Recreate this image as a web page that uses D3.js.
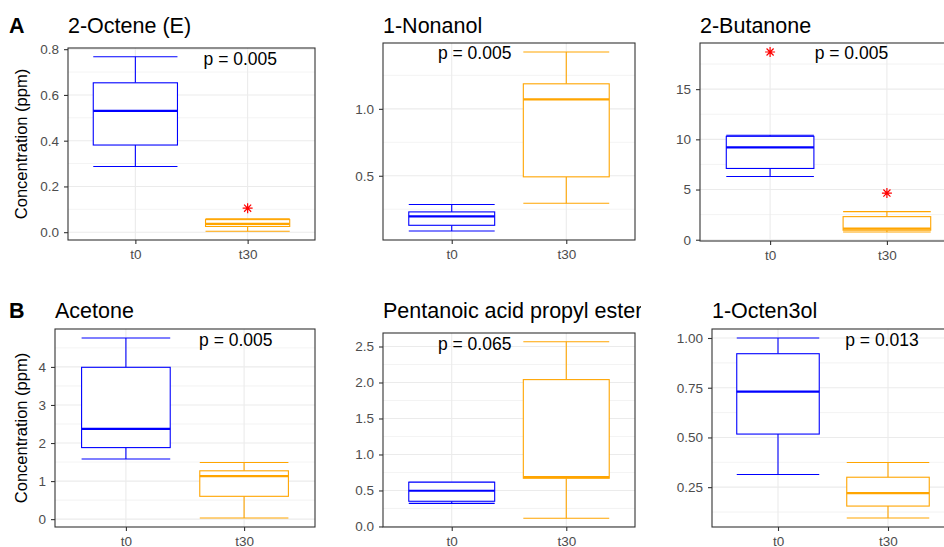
<!DOCTYPE html>
<html>
<head>
<meta charset="utf-8">
<script src="https://cdn.jsdelivr.net/npm/d3@7"></script>
<style>
  body { margin: 0; background: #fff; }
  svg { display: block; font-family: "Liberation Sans", Arial, sans-serif; }
</style>
</head>
<body>
<svg id="chart" width="944" height="547"></svg>
<script>
// compounds, one per panel (row A first, then row B)
const compounds = ["2-Octene (E)", "1-Nonanol", "2-Butanone", "Acetone", "Pentanoic acid propyl ester", "1-Octen3ol"];
const groups = ["t0", "t30"];
const pLabels = ["p = 0.005", "p = 0.005", "p = 0.005", "p = 0.005", "p = 0.065", "p = 0.013"];

// box stats: [low whisker, q1, median, q3, high whisker]
const statsT0 = [
  [0.287, 0.381, 0.530, 0.653, 0.767],
  [0.087, 0.130, 0.197, 0.230, 0.285],
  [6.3, 7.1, 9.2, 10.3, 10.4],
  [1.58, 1.88, 2.37, 3.99, 4.76],
  [0.32, 0.35, 0.496, 0.615, 0.615],
  [0.314, 0.517, 0.730, 0.921, 1.00]
];
const statsT30 = [
  [0.004, 0.025, 0.036, 0.055, 0.058],
  [0.295, 0.492, 1.07, 1.187, 1.425],
  [0.77, 0.95, 1.1, 2.3, 2.8],
  [0.03, 0.60, 1.13, 1.27, 1.49],
  [0.115, 0.67, 0.685, 2.04, 2.565],
  [0.095, 0.155, 0.22, 0.30, 0.374]
];
const outliersT0 = [[], [], [18.7], [], [], []];
const outliersT30 = [[0.105], [], [4.65], [], [], []];

const yTicks = [
  [0, 0.2, 0.4, 0.6, 0.8],
  [0.5, 1.0],
  [0, 5, 10, 15],
  [0, 1, 2, 3, 4],
  [0, 0.5, 1.0, 1.5, 2.0, 2.5],
  [0.25, 0.5, 0.75, 1.0]
];
const tickDecimals = [1, 1, 0, 0, 1, 2];
// where the p label sits, in data units (group position, value)
const pLabelAt = [[1.935, 0.758], [1.2, 1.418], [1.696, 18.64], [1.93, 4.70], [1.2, 2.53], [1.945, 0.988]];

// panel geometry (plot areas in pixels)
const layout = [
  {x0: 68, x1: 315, y0: 48, y1: 240, col: 0},
  {x0: 383, x1: 635, y0: 43, y1: 240, col: 1},
  {x0: 700, x1: 957, y0: 43, y1: 241, col: 2},
  {x0: 55, x1: 315, y0: 329, y1: 527, col: 0},
  {x0: 383, x1: 635, y0: 333, y1: 527, col: 1},
  {x0: 712, x1: 954, y0: 329, y1: 527, col: 2}
];
const colBounds = [[0, 320], [320, 641], [641, 944]];
const titleBaseline = [33, 318];

const colours = {t0: "#0000FF", t30: "#FFA500"};

const svg = d3.select("#chart");
const defs = svg.append("defs");

// 8 pointed star like R's pch 8
const starSymbol = {
  draw(ctx, size) {
    const r = Math.sqrt(size) / 2;
    const d = r * Math.SQRT1_2;
    ctx.moveTo(0, -r); ctx.lineTo(0, r);
    ctx.moveTo(-r, 0); ctx.lineTo(r, 0);
    ctx.moveTo(-d, -d); ctx.lineTo(d, d);
    ctx.moveTo(-d, d); ctx.lineTo(d, -d);
  }
};

colBounds.forEach((b, i) => {
  defs.append("clipPath").attr("id", "col" + i)
    .append("rect").attr("x", b[0]).attr("y", 0).attr("width", b[1] - b[0]).attr("height", 547);
});

compounds.forEach((name, i) => {
  const L = layout[i];
  const row = i < 3 ? 0 : 1;
  const g = svg.append("g").attr("clip-path", `url(#col${L.col})`);

  const all = statsT0[i].concat(statsT30[i], outliersT0[i], outliersT30[i]);
  const lo = d3.min(all), hi = d3.max(all);
  const pad = (hi - lo) * 0.05;

  const x = d3.scalePoint().domain(groups).range([L.x0, L.x1]).padding(0.6);
  const xu = d3.scaleLinear().domain([0.4, 2.6]).range([L.x0, L.x1]);
  const y = d3.scaleLinear().domain([lo - pad, hi + pad]).range([L.y1, L.y0]);
  const boxW = x.step() * 0.75;

  // grid: minor lines half way between majors
  const ticks = yTicks[i];
  const step = ticks.length > 1 ? ticks[1] - ticks[0] : 0.5;
  const minor = d3.range(ticks[0] - step / 2, hi + pad + step, step)
    .filter(v => v > lo - pad && v < hi + pad);

  g.selectAll(".minor").data(minor).join("line")
    .attr("x1", L.x0).attr("x2", L.x1)
    .attr("y1", d => y(d)).attr("y2", d => y(d))
    .attr("stroke", "#EBEBEB").attr("stroke-width", 0.6);
  g.selectAll(".major").data(ticks).join("line")
    .attr("x1", L.x0).attr("x2", L.x1)
    .attr("y1", d => y(d)).attr("y2", d => y(d))
    .attr("stroke", "#EBEBEB").attr("stroke-width", 1.1);
  g.selectAll(".vmajor").data(groups).join("line")
    .attr("x1", d => x(d)).attr("x2", d => x(d))
    .attr("y1", L.y0).attr("y2", L.y1)
    .attr("stroke", "#EBEBEB").attr("stroke-width", 1.1);

  // boxes
  [statsT0[i], statsT30[i]].forEach((s, k) => {
    const grp = groups[k];
    const c = colours[grp];
    const cx = x(grp);
    const bg = g.append("g").attr("stroke", c).attr("fill", "none");
    bg.append("line").attr("x1", cx).attr("x2", cx).attr("y1", y(s[3])).attr("y2", y(s[4])).attr("stroke-width", 1.1);
    bg.append("line").attr("x1", cx).attr("x2", cx).attr("y1", y(s[1])).attr("y2", y(s[0])).attr("stroke-width", 1.1);
    [s[0], s[4]].forEach(v => {
      bg.append("line").attr("x1", cx - boxW / 2).attr("x2", cx + boxW / 2)
        .attr("y1", y(v)).attr("y2", y(v)).attr("stroke-width", 1.1);
    });
    bg.append("rect").attr("x", cx - boxW / 2).attr("width", boxW)
      .attr("y", y(s[3])).attr("height", y(s[1]) - y(s[3]))
      .attr("fill", "#fff").attr("stroke-width", 1.1);
    bg.append("line").attr("x1", cx - boxW / 2).attr("x2", cx + boxW / 2)
      .attr("y1", y(s[2])).attr("y2", y(s[2])).attr("stroke-width", 2.2);
  });

  // outliers
  [outliersT0[i], outliersT30[i]].forEach((o, k) => {
    g.selectAll(null).data(o).join("path")
      .attr("d", d3.symbol(starSymbol, 100))
      .attr("transform", d => `translate(${x(groups[k])},${y(d)})`)
      .attr("fill", "none").attr("stroke", "#FF0000").attr("stroke-width", 1.2);
  });

  // p value
  g.append("text")
    .attr("x", xu(pLabelAt[i][0])).attr("y", y(pLabelAt[i][1]))
    .attr("text-anchor", "middle").attr("dominant-baseline", "central")
    .attr("font-size", 17.5).attr("fill", "#000")
    .text(pLabels[i]);

  // panel border
  g.append("rect").attr("x", L.x0).attr("y", L.y0)
    .attr("width", L.x1 - L.x0).attr("height", L.y1 - L.y0)
    .attr("fill", "none").attr("stroke", "#333").attr("stroke-width", 1.1);

  // axes
  const fmt = d3.format("." + tickDecimals[i] + "f");
  const yAxis = g.append("g").attr("transform", `translate(${L.x0},0)`)
    .call(d3.axisLeft(y).tickValues(ticks).tickFormat(fmt).tickSize(4).tickPadding(5));
  const xAxis = g.append("g").attr("transform", `translate(0,${L.y1})`)
    .call(d3.axisBottom(x).tickSize(4).tickPadding(5));
  [yAxis, xAxis].forEach(a => {
    a.select(".domain").remove();
    a.selectAll(".tick line").attr("stroke", "#333").attr("stroke-width", 1.1);
    a.selectAll(".tick text").attr("fill", "#4D4D4D").attr("font-size", 13.5)
      .attr("font-family", "Liberation Sans, Arial, sans-serif");
  });

  // title
  g.append("text").attr("x", L.x0).attr("y", titleBaseline[row])
    .attr("font-size", 21.5).attr("fill", "#000").text(name);
});

// row tags and y axis titles
["A", "B"].forEach((tag, r) => {
  svg.append("text").attr("x", 9).attr("y", titleBaseline[r])
    .attr("font-size", 21.5).attr("font-weight", "bold").text(tag);
  const L = layout[r * 3];
  svg.append("text")
    .attr("transform", `translate(27,${(L.y0 + L.y1) / 2}) rotate(-90)`)
    .attr("text-anchor", "middle").attr("font-size", 16.5)
    .text("Concentration (ppm)");
});
</script>
</body>
</html>
